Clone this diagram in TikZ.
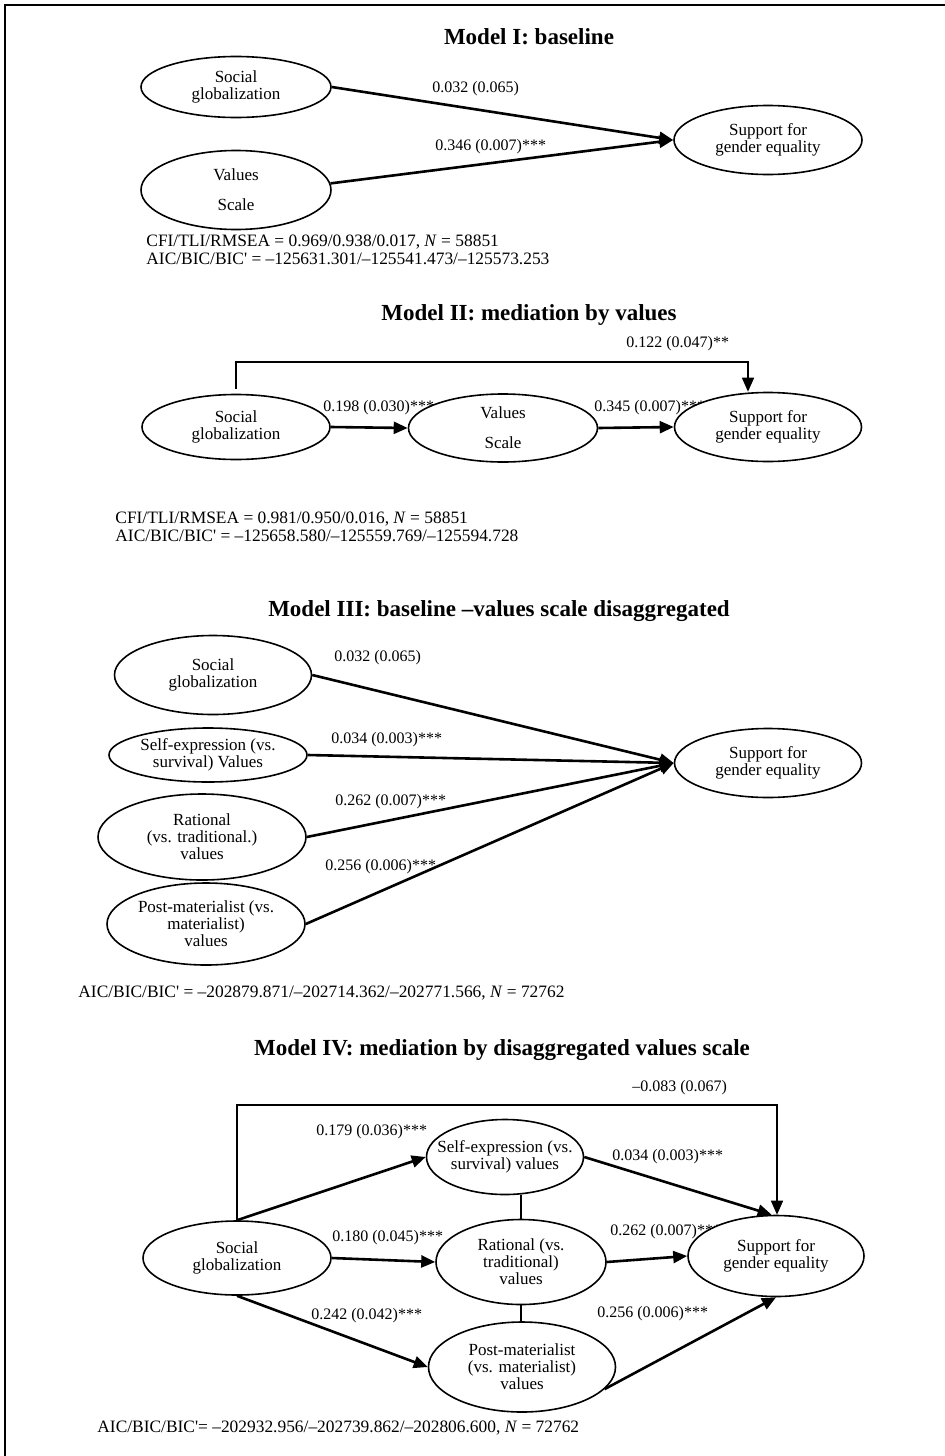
\documentclass[tikz,border=0pt]{standalone}
\usepackage{fontspec}
\setmainfont{Liberation Serif}
\usetikzlibrary{shapes.geometric,arrows.meta,backgrounds}
\begin{document}
\begin{tikzpicture}[x=0.5pt,y=-0.5pt,
    construct/.style={draw,ellipse,line width=0.8pt,fill=white,inner xsep=-8pt,inner ysep=-4pt,
      align=center,font=\fontsize{8.5}{8.5}\selectfont},
    sz/.style 2 args={minimum width=#1*0.5pt,minimum height=#2*0.5pt},
    effect/.style={line width=1.3pt,-{Triangle[length=7pt,width=6pt]}},
    direct/.style={line width=0.8pt,-{Triangle[length=7pt,width=6pt]}},
    coef/.style={anchor=west,inner sep=0pt,font=\fontsize{8}{9}\selectfont},
    heading/.style={font=\fontsize{11.5}{14}\selectfont\bfseries},
    stats/.style={anchor=west,align=left,inner sep=0pt,font=\fontsize{8.7}{9.2}\selectfont}]
  \useasboundingbox (0,0) rectangle (945,1456);
  \draw[line width=1pt] (5,1456) -- (5,5) -- (945,5);

  % Model I
  \node[heading] (headI) at (529,37) {Model I: baseline};
  \node[construct,sz={190}{61}] (sgI) at (236,87) {Social\\globalization};
  \node[construct,sz={190}{79}] (vsI) at (236,190) {Values\\[6.5pt]Scale};
  \node[construct,sz={188}{69}] (geI) at (768,140) {Support for\\gender equality};
  \node[stats] (fitI) at (146,250) {CFI/TLI/RMSEA = 0.969/0.938/0.017, \textit{N} = 58851\\
    AIC/BIC/BIC\textquotesingle{} = --125631.301/--125541.473/--125573.253};
  \begin{pgfonlayer}{background}
    \draw[effect] (sgI.east) -- (geI.west);
    \draw[effect] (vsI.4) -- (geI.west);
    \node[coef] at (432,89) {0.032 (0.065)};
    \node[coef] at (435,147) {0.346 (0.007)***};
  \end{pgfonlayer}

  % Model II
  \node[heading] (headII) at (529,315) {Model II: mediation by values};
  \node[construct,sz={188}{65}] (sgII) at (236,427) {Social\\globalization};
  \node[construct,sz={189}{68}] (vsII) at (503,428) {Values\\[6.5pt]Scale};
  \node[construct,sz={187}{69}] (geII) at (768,427) {Support for\\gender equality};
  \node[stats] (fitII) at (115,527) {CFI/TLI/RMSEA = 0.981/0.950/0.016, \textit{N} = 58851\\
    AIC/BIC/BIC\textquotesingle{} = --125658.580/--125559.769/--125594.728};
  \coordinate (topII) at (748,362);
  \begin{pgfonlayer}{background}
    \draw[effect] (sgII.east) -- (vsII.west);
    \draw[effect] (vsII.east) -- (geII.west);
    \draw[direct] ([yshift=2.5pt]sgII.north) |- (topII) -- (topII |- geII.north);
    \node[coef] at (323,408) {0.198 (0.030)***};
    \node[coef] at (594,408) {0.345 (0.007)***};
    \node[coef] at (626,344) {0.122 (0.047)**};
  \end{pgfonlayer}

  % Model III
  \node[heading] (headIII) at (499,611) {Model III: baseline --values scale disaggregated};
  \node[construct,sz={197}{79}] (sgIII) at (213,675) {Social\\globalization};
  \node[construct,sz={198}{54}] (seIII) at (208,755) {Self-expression (vs.\\survival) Values};
  \node[construct,sz={208}{86}] (rtIII) at (202,837) {Rational\\(vs. traditional.)\\values};
  \node[construct,sz={198}{82}] (pmIII) at (206,924) {Post-materialist (vs.\\materialist)\\values};
  \node[construct,sz={187}{69}] (geIII) at (768,763) {Support for\\gender equality};
  \node[stats] (fitIII) at (78,993) {AIC/BIC/BIC\textquotesingle{} = --202879.871/--202714.362/--202771.566, \textit{N} = 72762};
  \begin{pgfonlayer}{background}
    \foreach \v in {sgIII,seIII,rtIII,pmIII}
      \draw[effect] (\v.east) -- (geIII.west);
    \foreach \lx/\ly/\txt in {334/658/{0.032 (0.065)},331/740/{0.034 (0.003)***},
        335/802/{0.262 (0.007)***},325/867/{0.256 (0.006)***}}
      \node[coef] at (\lx,\ly) {\txt};
  \end{pgfonlayer}

  % Model IV
  \node[heading] (headIV) at (502,1050) {Model IV: mediation by disaggregated values scale};
  \node[construct,sz={188}{74}] (sgIV) at (237,1258) {Social\\globalization};
  \node[construct,sz={157}{75}] (seIV) at (505,1157) {Self-expression (vs.\\survival) values};
  \node[construct,sz={170}{85}] (rtIV) at (521,1262) {Rational (vs.\\traditional)\\values};
  \node[construct,sz={187}{90}] (pmIV) at (522,1367) {Post-materialist\\(vs. materialist)\\values};
  \node[construct,sz={176}{81}] (geIV) at (776,1256) {Support for\\gender equality};
  \node[stats] (fitIV) at (97,1428) {AIC/BIC/BIC\textquotesingle{}= --202932.956/--202739.862/--202806.600, \textit{N} = 72762};
  \coordinate (topIV) at (777,1105);
  \begin{pgfonlayer}{background}
    \draw[direct] (sgIV.north) |- (topIV) -- (topIV |- geIV.north);
    \draw[effect] (sgIV.north) -- (seIV.west);
    \draw[effect] (sgIV.east) -- (rtIV.west);
    \draw[effect] (sgIV.south) -- (pmIV.west);
    \draw[effect] (seIV.east) -- (geIV.96);
    \draw[effect] (rtIV.east) -- (geIV.west);
    \draw[effect] (pmIV.-15) -- (geIV.south);
    \draw[line width=0.8pt] (rtIV.north) -- (rtIV.north |- seIV.south);
    \draw[line width=0.8pt] (rtIV.south) -- (rtIV.south |- pmIV.north);
    \foreach \lx/\ly/\txt in {632/1088/{--0.083 (0.067)},316/1132/{0.179 (0.036)***},
        332/1238/{0.180 (0.045)***},311/1316/{0.242 (0.042)***},612/1157/{0.034 (0.003)***},
        610/1232/{0.262 (0.007)***},597/1314/{0.256 (0.006)***}}
      \node[coef] at (\lx,\ly) {\txt};
  \end{pgfonlayer}
\end{tikzpicture}
\end{document}
